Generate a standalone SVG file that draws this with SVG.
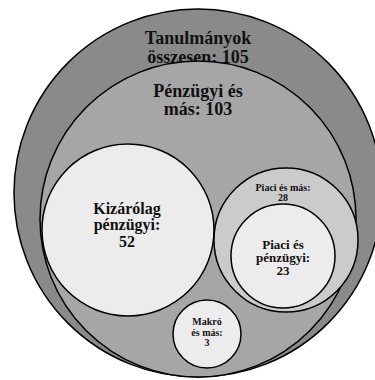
<svg xmlns="http://www.w3.org/2000/svg" width="375" height="380" viewBox="0 0 375 380">
<style>
circle{stroke:#000;stroke-width:1.5}
text{font-family:"Liberation Serif","Times New Roman",serif;font-weight:bold;fill:#111;text-anchor:middle}
.c0{fill:#8a8a8a}.c1{fill:#a6a6a6}.c2{fill:#cbcbcb}.c3{fill:#ececec}
</style>
<rect width="375" height="380" fill="#fff"/>
<g id="osszes">
<circle class="c0" cx="198" cy="193" r="184"/>
<text x="198" y="44" font-size="18">Tanulmányok</text>
<text x="198" y="63" font-size="18">összesen: 105</text>
</g>
<g id="penzugyi">
<circle class="c1" cx="198" cy="219" r="158"/>
<text x="198" y="97" font-size="18">Pénzügyi és</text>
<text x="198" y="115" font-size="18">más: 103</text>
</g>
<g id="kizarolag">
<circle class="c3" cx="128" cy="230" r="86"/>
<text x="127" y="214" font-size="16">Kizárólag</text>
<text x="127" y="230" font-size="16">pénzügyi:</text>
<text x="127" y="247" font-size="16">52</text>
</g>
<g id="piaci-mas">
<circle class="c2" cx="286" cy="240" r="72"/>
<text x="283" y="190.5" font-size="10">Piaci és más:</text>
<text x="283" y="201" font-size="10">28</text>
</g>
<g id="piaci-penzugyi">
<circle class="c3" cx="283" cy="256" r="52"/>
<text x="283" y="249" font-size="13">Piaci és</text>
<text x="283" y="262" font-size="13">pénzügyi:</text>
<text x="283" y="275" font-size="13">23</text>
</g>
<g id="makro">
<circle class="c3" cx="207" cy="334" r="34"/>
<text x="207" y="325" font-size="10">Makró</text>
<text x="207" y="335.5" font-size="10">és más:</text>
<text x="207" y="346" font-size="10">3</text>
</g>
<g id="connectors"/>
</svg>
